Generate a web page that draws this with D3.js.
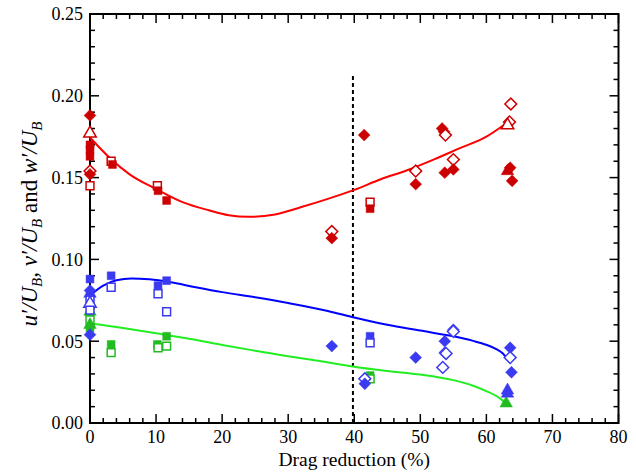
<!DOCTYPE html>
<html lang="en">
  <head>
    <meta charset="UTF-8" />
    <script src="https://cdn.jsdelivr.net/npm/d3@7"></script>
    <title>Turbulence intensities vs drag reduction</title>
    <style>
      body { margin: 0; background: white; }
      svg text { font-family: "Liberation Serif", "DejaVu Serif", serif; fill: black; }
    </style>
  </head>
  <body>
    <script>
      /*----------------- data -----------------*/
      // [drag reduction %, value, shape (S square, D diamond, T triangle), filled]
      const uPoints = [
        [0, 0.188, "D", 1], [0, 0.177, "T", 0], [0, 0.170, "S", 1], [0, 0.167, "S", 1],
        [0, 0.163, "S", 1], [0, 0.154, "D", 0], [0, 0.152, "D", 1], [0, 0.145, "S", 0],
        [3.2, 0.160, "S", 0], [3.4, 0.158, "S", 1],
        [10.2, 0.145, "S", 0], [10.3, 0.142, "S", 1], [11.6, 0.136, "S", 1],
        [36.6, 0.117, "D", 0], [36.6, 0.113, "D", 1],
        [41.5, 0.176, "D", 1],
        [42.4, 0.135, "S", 0], [42.4, 0.131, "S", 1],
        [49.3, 0.154, "D", 0], [49.3, 0.146, "D", 1],
        [53.3, 0.180, "D", 1], [53.6, 0.178, "D", 1], [53.8, 0.176, "D", 0],
        [53.7, 0.153, "D", 1],
        [55.0, 0.161, "D", 0], [55.0, 0.155, "D", 1],
        [63.7, 0.195, "D", 0], [63.5, 0.184, "D", 0], [63.2, 0.182, "T", 0],
        [63.2, 0.154, "T", 1], [63.6, 0.156, "D", 1], [63.9, 0.148, "D", 1],
      ];
      const vPoints = [
        [0, 0.088, "S", 1], [0, 0.081, "D", 1], [0, 0.079, "T", 1], [0, 0.077, "S", 1],
        [0, 0.075, "S", 0], [0, 0.073, "T", 0], [0, 0.069, "S", 0], [0, 0.054, "D", 1],
        [3.2, 0.090, "S", 1], [3.2, 0.083, "S", 0],
        [10.3, 0.084, "S", 1], [10.3, 0.079, "S", 0],
        [11.6, 0.087, "S", 1], [11.6, 0.068, "S", 0],
        [36.6, 0.047, "D", 1],
        [41.6, 0.027, "D", 0], [41.6, 0.024, "D", 1],
        [42.4, 0.053, "S", 1], [42.4, 0.049, "S", 0],
        [49.3, 0.040, "D", 1],
        [53.4, 0.034, "D", 0], [53.7, 0.050, "D", 1], [53.7, 0.043, "D", 1], [53.9, 0.0425, "D", 0],
        [55.0, 0.057, "D", 1], [55.0, 0.056, "D", 0],
        [63.6, 0.046, "D", 1], [63.6, 0.040, "D", 0], [63.8, 0.031, "D", 1],
        [63.2, 0.020, "T", 1], [63.2, 0.018, "T", 1],
      ];
      const wPoints = [
        [0, 0.068, "T", 1], [0, 0.066, "S", 1], [0, 0.063, "S", 0], [0, 0.060, "T", 1], [0, 0.058, "S", 1],
        [3.2, 0.048, "S", 1], [3.2, 0.043, "S", 0],
        [10.2, 0.048, "S", 1], [10.3, 0.046, "S", 0],
        [11.6, 0.053, "S", 1], [11.6, 0.047, "S", 0],
        [42.4, 0.029, "S", 1], [42.4, 0.027, "S", 0],
        [63.0, 0.012, "T", 1],
      ];

      // fitted trend curves, read along their path
      const uCurve = [
        [0, 0.1745], [3, 0.162], [6, 0.152], [10, 0.143], [14, 0.135], [18, 0.130],
        [21, 0.127], [24, 0.126], [28, 0.1275], [32, 0.132], [36, 0.137], [40, 0.1425],
        [44, 0.149], [48, 0.1545], [52, 0.161], [56, 0.168], [60, 0.175], [62.8, 0.1826],
      ];
      const vCurve = [
        [0, 0.078], [2, 0.084], [4, 0.0873], [6.3, 0.0884], [9, 0.0878], [12, 0.0862],
        [16, 0.083], [20, 0.080], [25, 0.0768], [30, 0.0733], [36, 0.0685], [40, 0.0645],
        [45, 0.060], [50, 0.0565], [55, 0.0530], [58, 0.0502], [60, 0.0478], [61.5, 0.0452],
        [62.5, 0.0425], [63.1, 0.0395],
      ];
      const wCurve = [
        [0, 0.061], [5, 0.058], [10, 0.0548], [15, 0.0515], [20, 0.0477], [25, 0.0442],
        [30, 0.0408], [35, 0.0378], [40, 0.0344], [45, 0.0318], [50, 0.0296], [55, 0.0262],
        [58, 0.0228], [60, 0.0195], [62, 0.0152], [63.1, 0.0115],
      ];

      const xTicks = [0, 10, 20, 30, 40, 50, 60, 70, 80];
      const yTicks = [0, 0.05, 0.1, 0.15, 0.2, 0.25];
      const dividerX = 39.8; // vertical dashed marker
      const dividerTop = 0.213;

      /*----------------- layout -----------------*/
      const width = 636, height = 474;
      const plot = { left: 90, right: 618.5, top: 14, bottom: 423 };
      const serif = "'Liberation Serif', 'DejaVu Serif', serif";

      const x = d3.scaleLinear().domain([0, 80]).range([plot.left, plot.right]);
      const y = d3.scaleLinear().domain([0, 0.25]).range([plot.bottom, plot.top]);

      const svg = d3.select("body").append("svg")
        .attr("width", width).attr("height", height)
        .attr("font-family", serif);

      /*----------------- axes (ticks pointing inward, all four sides) -----------------*/
      const majorLen = 9, minorLen = 5;
      const xMinor = d3.range(0, 80.01, 2);
      const yMinor = d3.range(0, 0.2501, 0.01);

      const axisG = svg.append("g");
      xMinor.forEach((v) => {
        const len = Math.abs(v % 10) < 1e-6 ? majorLen : minorLen;
        axisG.append("line").attr("x1", x(v)).attr("x2", x(v))
          .attr("y1", plot.bottom).attr("y2", plot.bottom - len);
        axisG.append("line").attr("x1", x(v)).attr("x2", x(v))
          .attr("y1", plot.top).attr("y2", plot.top + len);
      });
      yMinor.forEach((v) => {
        const len = Math.abs(Math.round(v * 100) % 5) < 1e-6 ? majorLen : minorLen;
        axisG.append("line").attr("x1", plot.left).attr("x2", plot.left + len)
          .attr("y1", y(v)).attr("y2", y(v));
        axisG.append("line").attr("x1", plot.right).attr("x2", plot.right - len)
          .attr("y1", y(v)).attr("y2", y(v));
      });
      axisG.selectAll("line").attr("stroke", "black").attr("stroke-width", 1.5);
      axisG.append("rect")
        .attr("x", plot.left).attr("y", plot.top)
        .attr("width", plot.right - plot.left).attr("height", plot.bottom - plot.top)
        .attr("fill", "none").attr("stroke", "black").attr("stroke-width", 2);

      svg.append("g").selectAll("text").data(xTicks).join("text")
        .attr("x", (d) => x(d)).attr("y", plot.bottom + 20)
        .attr("text-anchor", "middle").attr("font-size", 18)
        .text((d) => d);
      svg.append("g").selectAll("text").data(yTicks).join("text")
        .attr("x", plot.left - 7).attr("y", (d) => y(d)).attr("dy", "0.35em")
        .attr("text-anchor", "end").attr("font-size", 18)
        .text((d) => d.toFixed(2));

      svg.append("text")
        .attr("x", (plot.left + plot.right) / 2).attr("y", 466)
        .attr("text-anchor", "middle").attr("font-size", 19.5)
        .text("Drag reduction (%)");

      const yLabel = svg.append("text")
        .attr("transform", "translate(37,224) rotate(-90)")
        .attr("text-anchor", "middle").attr("font-size", 23);
      const parts = [
        ["u\u2032/U", "italic", 0], ["B", "italic", 1], [", v\u2032/U", "italic", 0], ["B", "italic", 1],
        [" and ", "normal", 0], ["w\u2032/U", "italic", 0], ["B", "italic", 1],
      ];
      let shift = 0;
      parts.forEach(([t, style, sub]) => {
        const dy = sub ? 5 - shift : -shift;
        shift = sub ? 5 : 0;
        yLabel.append("tspan").attr("font-style", style)
          .attr("font-size", sub ? 15 : 23).attr("dy", dy).text(t);
      });

      /*----------------- dashed divider -----------------*/
      svg.append("line")
        .attr("x1", x(dividerX)).attr("x2", x(dividerX))
        .attr("y1", y(0)).attr("y2", y(dividerTop))
        .attr("stroke", "black").attr("stroke-width", 2)
        .attr("stroke-dasharray", "4,3");

      /*----------------- curves -----------------*/
      const line = d3.line().x((d) => x(d[0])).y((d) => y(d[1])).curve(d3.curveMonotoneX);
      const series = [
        { pts: wPoints, curve: wCurve, mark: "#22bb22", lineCol: "#22ee22" },
        { pts: vPoints, curve: vCurve, mark: "#3a3af0", lineCol: "#0000ff" },
        { pts: uPoints, curve: uCurve, mark: "#cc0000", lineCol: "#ff0000" },
      ];
      series.forEach((s) => {
        svg.append("path").attr("d", line(s.curve))
          .attr("fill", "none").attr("stroke", s.lineCol).attr("stroke-width", 2);
      });

      /*----------------- markers -----------------*/
      const symbolFor = {
        S: d3.symbol().type(d3.symbolSquare).size(62),
        D: d3.symbol().type(d3.symbolSquare).size(70),
        T: d3.symbol().type(d3.symbolTriangle).size(68),
      };
      series.forEach((s) => {
        svg.append("g").selectAll("path").data(s.pts).join("path")
          .attr("d", (d) => symbolFor[d[2]]())
          .attr("transform", (d) =>
            `translate(${x(d[0])},${y(d[1])})` + (d[2] === "D" ? " rotate(45)" : ""))
          .attr("fill", (d) => (d[3] ? s.mark : "white"))
          .attr("stroke", s.mark)
          .attr("stroke-width", (d) => (d[3] ? 0.5 : 1.5));
      });
    </script>
  </body>
</html>
